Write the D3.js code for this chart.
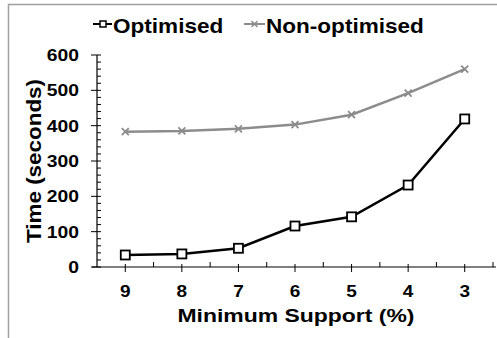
<!DOCTYPE html>
<html><head><meta charset="utf-8">
<script src="https://cdn.jsdelivr.net/npm/d3@7"></script>
<style>body{margin:0;background:#fff;}svg{display:block;font-family:"Liberation Sans",Arial,sans-serif;}svg text{font-weight:bold;fill:#000;}</style>
</head><body><svg id="c" width="497" height="338"></svg>
<script>
const categories = ["9","8","7","6","5","4","3"];
const optimised = [34, 37, 53, 116, 142, 232, 419];
const nonOptimised = [383, 385, 391, 403, 431, 492, 560];
const yTicks = [0,100,200,300,400,500,600];
const seriesNames = ["Optimised","Non-optimised"];

(function(){
const svg = d3.select("#c");
const pl = 97, pr = 493, pt = 55, pb = 267;
const stretch = (sel, f) => sel.each(function(){ const w=this.getComputedTextLength(); d3.select(this).attr("textLength", w*f).attr("lengthAdjust","spacingAndGlyphs"); });

// frame
svg.append("path").attr("d","M8.5,338V4.5H497").attr("fill","none").attr("stroke","#a0a0a0").attr("stroke-width",1.5);

const x = d3.scaleBand().domain(categories).range([pl,pr]).paddingInner(0).paddingOuter(0);
const y = d3.scaleLinear().domain([0,600]).range([pb,pt]);
const cx = d => x(d) + x.bandwidth()/2;

// y axis
const gy = svg.append("g");
gy.append("line").attr("x1",pl).attr("x2",pl).attr("y1",pt).attr("y2",pb).attr("stroke","#000").attr("stroke-width",1.2);
d3.range(0,601,20).forEach(v=>{
  const major = v%100===0;
  gy.append("line").attr("x1",major?pl-6:pl).attr("x2",pl+4).attr("y1",y(v)).attr("y2",y(v)).attr("stroke","#000").attr("stroke-width",1);
});
gy.selectAll("text").data(yTicks).join("text").attr("x",79).attr("y",d=>y(d)+6)
  .attr("text-anchor","end").attr("font-size",16.5).text(d=>d).call(stretch,1.17);

// x axis
const gx = svg.append("g");
gx.append("line").attr("x1",pl-5).attr("x2",pr+3).attr("y1",pb).attr("y2",pb).attr("stroke","#000").attr("stroke-width",1.2);
categories.forEach(c=>{
  gx.append("line").attr("x1",cx(c)).attr("x2",cx(c)).attr("y1",pb-3).attr("y2",pb+5).attr("stroke","#000");
  gx.append("line").attr("x1",x(c)+x.bandwidth()).attr("x2",x(c)+x.bandwidth()).attr("y1",pb-5).attr("y2",pb).attr("stroke","#000");
});
gx.selectAll("text").data(categories).join("text").attr("x",d=>cx(d)).attr("y",297)
  .attr("text-anchor","middle").attr("font-size",16.5).text(d=>d).call(stretch,1.15);

// titles
svg.append("text").attr("x",296).attr("y",322).attr("text-anchor","middle").attr("font-size",18.5).text("Minimum Support (%)").call(stretch,1.24);
svg.append("text").attr("transform","translate(41,161) rotate(-90)").attr("text-anchor","middle").attr("font-size",19.5).text("Time (seconds)").call(stretch,1.15);

// lines
const line = d3.line().x((d,i)=>cx(categories[i])).y(d=>y(d));
svg.append("path").datum(nonOptimised).attr("d",line).attr("fill","none").attr("stroke","#8c8c8c").attr("stroke-width",2.5);
svg.selectAll(".xm").data(nonOptimised).join("path").attr("class","xm")
  .attr("d",(d,i)=>{const a=cx(categories[i]),b=y(d),s=3.5;return `M${a-s},${b-s}L${a+s},${b+s}M${a-s},${b+s}L${a+s},${b-s}`;})
  .attr("stroke","#8c8c8c").attr("stroke-width",1.8);
svg.append("path").datum(optimised).attr("d",line).attr("fill","none").attr("stroke","#000").attr("stroke-width",2.5);
svg.selectAll(".sq").data(optimised).join("rect").attr("class","sq")
  .attr("x",(d,i)=>cx(categories[i])-4.5).attr("y",d=>y(d)-4.5).attr("width",9).attr("height",9)
  .attr("fill","#fff").attr("stroke","#000").attr("stroke-width",1.8);

// legend
const lg = svg.append("g");
lg.append("line").attr("x1",93).attr("x2",112).attr("y1",24).attr("y2",24).attr("stroke","#000").attr("stroke-width",2);
lg.append("rect").attr("x",100).attr("y",21).attr("width",6).attr("height",6).attr("fill","#fff").attr("stroke","#000").attr("stroke-width",1.5);
lg.append("text").attr("x",113).attr("y",33).attr("font-size",20.5).text(seriesNames[0]).call(stretch,1.1);
lg.append("line").attr("x1",244).attr("x2",265).attr("y1",24).attr("y2",24).attr("stroke","#8c8c8c").attr("stroke-width",2);
lg.append("path").attr("d","M251.5,21L257.5,27M251.5,27L257.5,21").attr("stroke","#8c8c8c").attr("stroke-width",1.5);
lg.append("text").attr("x",266).attr("y",33).attr("font-size",20.5).text(seriesNames[1]).call(stretch,1.1);
})();
</script></body></html>
